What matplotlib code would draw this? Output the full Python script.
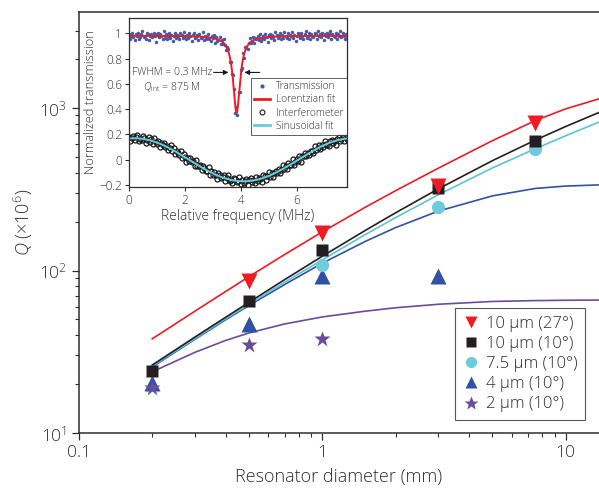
import numpy as np
import matplotlib
matplotlib.use("Agg")
import matplotlib.pyplot as plt
from matplotlib.lines import Line2D
from matplotlib.ticker import FixedLocator, NullFormatter, LogLocator

plt.rcParams['font.family'] = ['Open Sans', 'DejaVu Sans']
plt.rcParams['font.weight'] = 'light'
plt.rcParams['axes.labelweight'] = 'light'
plt.rcParams['mathtext.fontset'] = 'custom'
plt.rcParams['mathtext.rm'] = 'Open Sans:light'
plt.rcParams['mathtext.it'] = 'Open Sans:italic:light'
plt.rcParams['mathtext.bf'] = 'Open Sans:bold'

# ---------------- main panel data: Q factor vs resonator diameter ----------------
diam_red = [0.5, 1, 3, 7.5]
q_red = [86, 170, 330, 809]
diam_black = [0.2, 0.5, 1, 3, 7.5]
q_black = [24.1, 64.9, 133.6, 320, 630]
diam_cyan = [1, 3, 7.5]
q_cyan = [108, 247, 557]
diam_blue = [0.2, 0.5, 1, 3]
q_blue = [20.2, 46.7, 92.9, 92.5]
diam_purple = [0.2, 0.5, 1]
q_purple = [18.8, 34.8, 37.8]

# model curves
diam_model = [0.2, 0.3, 0.4, 0.5, 0.7, 1, 1.5, 2, 3, 5, 7.5, 10, 13.7]
model_red = [38, 56.3, 74.2, 91.8, 125.5, 173, 245, 310, 427, 630, 837, 989, 1139]
model_black = [26.2, 39.0, 51.5, 63.8, 87.9, 122.5, 176.4, 226.6, 318.5, 474.5, 635, 770, 939]
model_cyan = [25.8, 38.2, 50.4, 62.1, 84.7, 116.3, 166.3, 211.7, 292.8, 428, 562, 675, 820]
model_blue = [25.5, 37.8, 49.7, 61.0, 82.0, 111, 151, 183.7, 232.3, 288, 320, 331, 336.5]
model_purple = [23.8, 31.4, 37.1, 41.3, 46.9, 51.8, 56.2, 59.0, 62.0, 64.5, 65.3, 65.6, 65.8]

series_labels = ['10 µm (27°)', '10 µm (10°)', '7.5 µm (10°)', '4 µm (10°)', '2 µm (10°)']

# ---------------- inset data: transmission and interferometer traces ----------------
fwhm_mhz = 0.3
dip_center_mhz = 3.85
trans_baseline = 0.98
trans_depth = 0.61
trans_resid = [
    1, -2, 0, 2, -1, -3, 1, 0, 2, -2, -1, 1, 3, -1,
    0, -2, 2, 1, -3, 0, 1, -1, 2, 0, -4, 1, 2, -1,
    1, 0, -2, 3, -1, 1, -2, 0, 2, -1, 1, -3, 0, 2,
    -1, 1, 0, -2, 2, 1, -1, 3, 0, -2, 1, -1, 2, 0,
    -3, 1, 2, -1, 0, 1, -2, 2, -1, 0, 3, -2, 1, -1,
    0, 2, -1, -2, 1, 0, 2, -3, 1, -1, 0, 2, -2, 1,
    -1, 3, 0, -2, 1, 2, -4, 0, -3, 3, 2, -5, 4, -3,
    5, -4, 3, -2, 4, -3, 2, 0, -2, 1, 3, -1, 0, 2,
    -2, 1, 0, 2, -1, 3, -2, 0, 1, -1, 2, 0, -3, 1,
    2, -1, 1, 0, -2, 3, 1, -1, 0, 2, -2, 1, -1, 3,
    0, -1, 2, -2, 1, 0, 3, -1, 1, -3, 0, 2, 1, -1,
    2, 0, -2, 1, 3, -1, 0, 2, -2, 1, 0, -1, 2, 1,
    -2, 3, 0, 1, -1, 2, -3, 1, 0, 2, -1, 1, 3, -2,
    1, 0, -1, 2, -2, 1, 0, 3, -1, 2, 0, -2, 1, 0,
]
interf_amp = 0.17
interf_period_mhz = 7.8
interf_peak_mhz = 0.2
interf_resid = [
    1, -2, 0, 2, -1, 1, 3, -2, 0, -1, 2, 1, -3,
    0, 2, -1, 1, -2, 3, 0, -1, 2, -3, 1, 0, 2,
    -1, 1, -2, 0, 3, -1, 2, -2, 1, 0, -1, 3, -2,
    2, 0, -3, 1, -1, 2, 0, 1, -2, 3, -1, 0, 1,
    -2, 2, 1, -1, 0, 3, -2, 1, -1, 2, 0, -3, 2,
    1, -1, 0, 2, -2, 1, 3, -1, 0, -2, 2, 1, -1,
    0, 3, -2, 1, -1, 0, 2, -3, 1, 2, -1, 0, -2,
    2, -1, 1, 0, -3, 2, 1, -2, 0, 3, -1, 1, -2,
    0, 1, -1, 2, -2, 0, 3, -1, 1, -2, 2, 0, -1,
    3, -2, 0, 1, -1, 2, -3, 1, 0, 2, -1, 1, -2,
    1, 0, -2, 3, -1, 0, 2, -2, 1, -1, 3, 0, -1,
    -2, 1, 2, -1, 0, -3, 1, 2, -1, 0, 2, -2, 1,
    0,
]

# ---------------- colours ----------------
c_red = '#ed1c24'
c_black = '#231f20'
c_cyan = '#6dcbdc'
c_cyan_line = '#5cc3d6'
c_blue = '#3152a3'
c_purple = '#6a4c9c'
c_text = '#2e2e2e'

fig = plt.figure(figsize=(5.99, 4.91), dpi=100)
W, H = 599.0, 491.0
ax = fig.add_axes([79 / W, 1 - 433 / H, 520 / W, 421 / H])

lw = 1.2
ax.plot(diam_model, model_purple, color=c_purple, lw=lw)
ax.plot(diam_model, model_blue, color=c_blue, lw=lw)
ax.plot(diam_model, model_cyan, color=c_cyan_line, lw=lw)
ax.plot(diam_model, model_black, color=c_black, lw=lw)
ax.plot(diam_model, model_red, color=c_red, lw=lw)

h_blue, = ax.plot(diam_blue, q_blue, linestyle='none', marker='^', ms=11,
                  color=c_blue, mec='none', label=series_labels[3])
h_purple, = ax.plot(diam_purple, q_purple, linestyle='none', marker='*', ms=12,
                    color=c_purple, mec='none', label=series_labels[4])
h_cyan, = ax.plot(diam_cyan, q_cyan, linestyle='none', marker='o', ms=9.5,
                  color=c_cyan, mec='none', label=series_labels[2])
h_black, = ax.plot(diam_black, q_black, linestyle='none', marker='s', ms=8.5,
                   color=c_black, mec='none', label=series_labels[1])
h_red, = ax.plot(diam_red, q_red, linestyle='none', marker='v', ms=11,
                 color=c_red, mec='none', label=series_labels[0])

ax.set_xscale('log')
ax.set_yscale('log')
ax.set_xlim(0.1, 13.7)
ax.set_ylim(10, 3900)

ax.set_xticks([0.1, 1, 10])
ax.set_xticklabels(['0.1', '1', '10'])
ax.xaxis.set_minor_locator(LogLocator(base=10, subs=np.arange(2, 10)))
ax.xaxis.set_minor_formatter(NullFormatter())
ax.yaxis.set_major_locator(FixedLocator([10, 100, 1000]))
ax.yaxis.set_minor_locator(LogLocator(base=10, subs=np.arange(2, 10)))
ax.yaxis.set_minor_formatter(NullFormatter())

for side in ['left', 'bottom', 'top']:
    ax.spines[side].set_color(c_text)
    ax.spines[side].set_linewidth(1.1)
ax.spines['right'].set_visible(False)
ax.tick_params(which='major', direction='out', length=5, width=0.9,
               colors=c_text, labelsize=12.5, top=False, right=False)
ax.tick_params(which='minor', direction='out', length=3, width=0.8,
               colors=c_text, top=False, right=False)

ax.set_xlabel('Resonator diameter (mm)', fontsize=13, color=c_text, labelpad=5)
ax.set_ylabel(r'$Q$ (×10$^{6}$)', fontsize=13, color=c_text, labelpad=3)

leg = ax.legend(handles=[h_red, h_black, h_cyan, h_blue, h_purple],
                loc='lower right', bbox_to_anchor=(0.973, 0.031),
                borderaxespad=0, fontsize=12, frameon=True, fancybox=False,
                edgecolor=c_text, handlelength=1.0, handletextpad=0.4,
                labelspacing=0.25, borderpad=0.45, markerscale=0.85)
leg.get_frame().set_linewidth(0.8)
for t in leg.get_texts():
    t.set_color(c_text)

# ---------------- inset ----------------
axi = fig.add_axes([129 / W, 1 - 187 / H, 218 / W, 169 / H])
axi.set_facecolor('white')

freq_t = np.linspace(0, 7.8, len(trans_resid))
freq_i = np.linspace(0, 7.8, len(interf_resid))
freq_fit = np.linspace(0, 7.8, 800)

half = fwhm_mhz / 2
lorentz_t = trans_baseline - trans_depth / (1 + ((freq_t - dip_center_mhz) / half) ** 2)
lorentz_fit = trans_baseline - trans_depth / (1 + ((freq_fit - dip_center_mhz) / half) ** 2)
trans_meas = lorentz_t + 0.012 * np.array(trans_resid)

sin_i = interf_amp * np.cos(2 * np.pi * (freq_i - interf_peak_mhz) / interf_period_mhz)
sin_fit = interf_amp * np.cos(2 * np.pi * (freq_fit - interf_peak_mhz) / interf_period_mhz)
interf_meas = sin_i + 0.01 * np.array(interf_resid)

c_dot = '#3d5bb0'
axi.plot(freq_t, trans_meas, linestyle='none', marker='o', ms=2.5,
         color=c_dot, mec='none')
axi.plot(freq_fit, lorentz_fit, color=c_red, lw=1.4)
axi.plot(freq_i, interf_meas, linestyle='none', marker='o', ms=3.6,
         mfc='none', mec='#1a1a1a', mew=0.9)
axi.plot(freq_fit, sin_fit, color='#5fcfe0', lw=1.4)

axi.set_xlim(0, 7.8)
axi.set_ylim(-0.215, 1.12)
axi.set_xticks([0, 2, 4, 6])
axi.set_yticks([-0.2, 0, 0.2, 0.4, 0.6, 0.8, 1.0])
axi.set_yticklabels(['\u22120.2', '0', '0.2', '0.4', '0.6', '0.8', '1'])
axi.tick_params(direction='out', length=3, width=0.8, colors=c_text, labelsize=8.5, pad=2)
for s in axi.spines.values():
    s.set_color(c_text)
    s.set_linewidth(0.9)
axi.set_xlabel('Relative frequency (MHz)', fontsize=10, color=c_text, labelpad=1.5)
axi.set_ylabel('Normalized transmission', fontsize=9.3, color=c_text, labelpad=2)

arrow_kw = dict(arrowstyle='-|>', color='#1a1a1a', lw=0.8, mutation_scale=7,
                shrinkA=0, shrinkB=0)
axi.annotate('', xy=(3.56, 0.69), xytext=(3.03, 0.69), arrowprops=arrow_kw)
axi.annotate('', xy=(4.13, 0.69), xytext=(4.68, 0.69), arrowprops=arrow_kw)
axi.text(2.98, 0.69, 'FWHM = 0.3 MHz', ha='right', va='center', fontsize=7.5, color=c_text)
axi.text(1.55, 0.575, r'$Q_{\rm int}$ = 875 M', ha='center', va='center', fontsize=7.5, color=c_text)

inset_handles = [
    Line2D([], [], linestyle='none', marker='o', ms=3, color=c_dot, mec='none'),
    Line2D([], [], color=c_red, lw=2),
    Line2D([], [], linestyle='none', marker='o', ms=3.5, mfc='none', mec='#1a1a1a', mew=0.8),
    Line2D([], [], color='#5fcfe0', lw=2),
]
leg_in = axi.legend(inset_handles, ['Transmission', 'Lorentzian fit', 'Interferometer', 'Sinusoidal fit'],
                    loc='upper right', bbox_to_anchor=(1.0, 0.645), borderaxespad=0,
                    fontsize=7.3, frameon=True, fancybox=False, edgecolor='#1a1a1a',
                    handlelength=1.6, handletextpad=0.6, labelspacing=0.22, borderpad=0.32)
leg_in.get_frame().set_linewidth(0.6)
for t in leg_in.get_texts():
    t.set_color(c_text)

fig.savefig('out.png', dpi=100)
